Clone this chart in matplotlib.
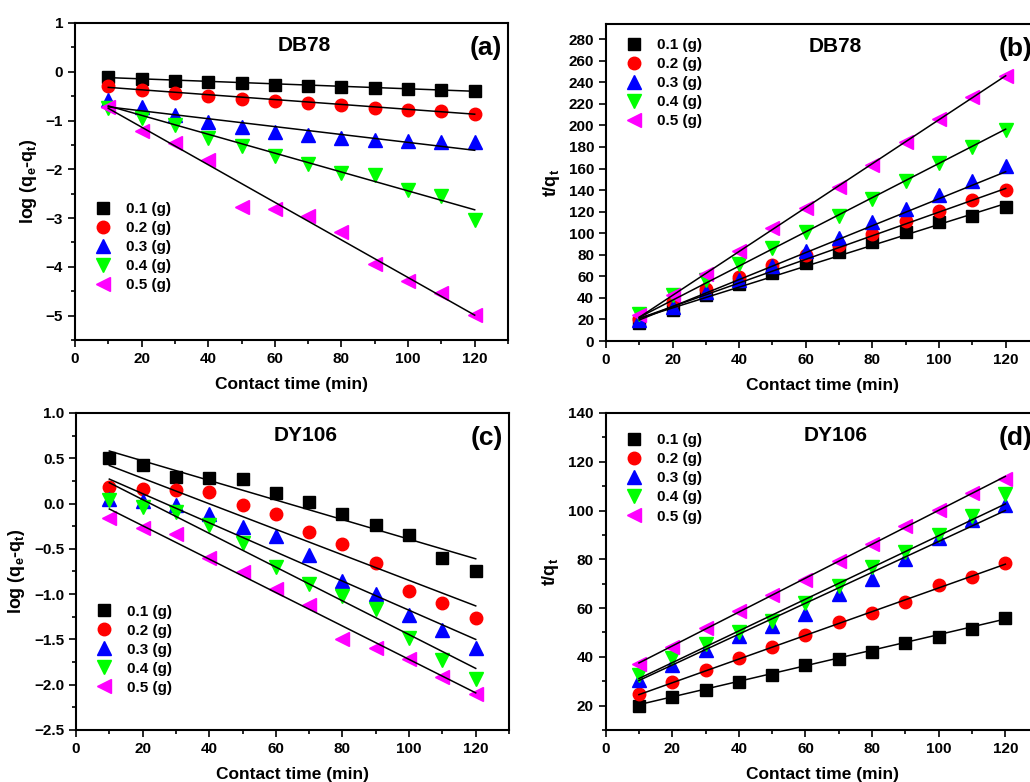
import numpy as np
import matplotlib
matplotlib.use("Agg")
import matplotlib.pyplot as plt
from matplotlib.ticker import MultipleLocator

plt.rcParams['font.family'] = 'Liberation Sans'
plt.rcParams['font.weight'] = 'bold'
plt.rcParams['mathtext.fontset'] = 'custom'
plt.rcParams['mathtext.rm'] = 'Liberation Sans:bold'
plt.rcParams['mathtext.it'] = 'Liberation Sans:bold'
plt.rcParams['mathtext.bf'] = 'Liberation Sans:bold'

time = [10, 20, 30, 40, 50, 60, 70, 80, 90, 100, 110, 120]
doses = ['0.1 (g)', '0.2 (g)', '0.3 (g)', '0.4 (g)', '0.5 (g)']

# pseudo-first-order, DB78: log(qe-qt)
db78_pfo = [
    [-0.10, -0.15, -0.19, -0.20, -0.23, -0.27, -0.30, -0.32, -0.34, -0.36, -0.38, -0.40],
    [-0.29, -0.38, -0.43, -0.49, -0.55, -0.59, -0.64, -0.69, -0.74, -0.78, -0.81, -0.86],
    [-0.57, -0.72, -0.88, -1.02, -1.14, -1.24, -1.29, -1.35, -1.40, -1.41, -1.43, -1.44],
    [-0.74, -0.94, -1.09, -1.35, -1.52, -1.72, -1.89, -2.08, -2.12, -2.42, -2.54, -3.03],
    [-0.72, -1.22, -1.47, -1.80, -2.78, -2.81, -2.95, -3.28, -3.94, -4.28, -4.54, -4.99],
]
# fitted line values at t=10 and t=120
db78_pfo_fit = [(-0.12, -0.40), (-0.32, -0.87), (-0.72, -1.61), (-0.70, -2.83), (-0.75, -4.99)]

# pseudo-second-order, DB78: t/qt
db78_pso = [
    [16.7, 29.0, 42.4, 53.3, 63.2, 72.8, 82.4, 92.0, 101.3, 110.6, 116.0, 124.5],
    [20.7, 36.0, 48.6, 59.5, 70.3, 79.6, 89.5, 99.7, 111.0, 120.5, 130.7, 140.0],
    [19.8, 32.0, 45.5, 57.0, 69.7, 83.6, 96.0, 110.0, 122.3, 135.3, 148.3, 162.3],
    [24.8, 42.4, 56.4, 71.2, 86.7, 101.3, 116.4, 131.6, 148.7, 164.8, 180.2, 195.7],
    [23.8, 42.4, 62.6, 83.6, 105.0, 123.0, 142.5, 163.2, 185.0, 205.6, 226.0, 246.0],
]
db78_pso_fit = [(21.0, 127.5), (21.0, 141.5), (19.5, 157.0), (22.0, 196.5), (22.0, 246.0)]

# pseudo-first-order, DY106
dy106_pfo = [
    [0.50, 0.43, 0.29, 0.28, 0.27, 0.12, 0.02, -0.11, -0.24, -0.35, -0.60, -0.74],
    [0.18, 0.16, 0.15, 0.13, -0.02, -0.12, -0.31, -0.45, -0.66, -0.97, -1.10, -1.26],
    [0.05, 0.03, -0.02, -0.11, -0.26, -0.36, -0.57, -0.86, -1.00, -1.23, -1.40, -1.60],
    [0.04, -0.04, -0.09, -0.24, -0.44, -0.70, -0.89, -1.02, -1.16, -1.48, -1.73, -1.94],
    [-0.16, -0.27, -0.34, -0.60, -0.76, -0.94, -1.12, -1.49, -1.59, -1.72, -1.91, -2.10],
]
dy106_pfo_fit = [(0.58, -0.61), (0.42, -1.13), (0.27, -1.50), (0.23, -1.82), (-0.06, -2.09)]

# pseudo-second-order, DY106
dy106_pso = [
    [20.0, 23.4, 26.3, 29.7, 32.7, 36.5, 39.3, 42.0, 45.7, 48.0, 51.6, 55.9],
    [24.8, 29.7, 34.4, 39.5, 44.0, 49.1, 54.3, 58.0, 62.5, 69.3, 72.6, 78.5],
    [30.7, 36.8, 43.0, 48.4, 52.5, 57.6, 65.8, 72.1, 80.3, 88.7, 96.3, 102.4],
    [32.7, 39.5, 45.3, 50.2, 54.9, 62.1, 68.9, 76.7, 83.0, 89.8, 97.6, 106.8],
    [37.2, 43.9, 51.8, 58.7, 65.2, 71.7, 79.2, 86.3, 93.5, 100.4, 107.2, 113.1],
]
dy106_pso_fit = [(20.4, 55.5), (24.5, 78.0), (30.3, 100.0), (31.1, 102.7), (37.5, 114.0)]

colors = ['#000000', '#ff0000', '#0000ff', '#00ff00', '#ff00ff']
markers = ['s', 'o', '^', 'v', '<']
msizes = [8, 9, 10, 10, 10]


def draw_panel(ax, series, fits, ylim, ymajor, yminor, ylabel, dye, tag, leg_anchor):
    for i in range(5):
        ax.plot(time, series[i], linestyle='none', marker=markers[i], ms=msizes[i],
                color=colors[i], mec=colors[i], label=doses[i], zorder=3)
    for i in range(5):
        ax.plot([time[0], time[-1]], fits[i], color='black', lw=1.1, zorder=4)

    ax.set_xlim(0, 130)
    ax.set_ylim(*ylim)
    ax.xaxis.set_major_locator(MultipleLocator(20))
    ax.xaxis.set_minor_locator(MultipleLocator(10))
    ax.yaxis.set_major_locator(MultipleLocator(ymajor))
    if yminor:
        ax.yaxis.set_minor_locator(MultipleLocator(yminor))
    ax.tick_params(which='both', direction='out', top=False, right=False,
                   width=1.2, labelsize=11)
    ax.tick_params(which='major', length=5)
    ax.tick_params(which='minor', length=3)
    for s in ax.spines.values():
        s.set_linewidth(1.5)

    ax.set_xlabel('Contact time (min)', fontsize=12.5, fontweight='bold', labelpad=8)
    ax.set_ylabel(ylabel, fontsize=13, fontweight='bold', labelpad=5)
    ax.text(0.53, 0.93, dye, transform=ax.transAxes, ha='center', va='center',
            fontsize=15, fontweight='bold')
    ax.text(0.985, 0.92, tag, transform=ax.transAxes, ha='right', va='center',
            fontsize=19, fontweight='bold')
    ax.legend(loc='upper left', bbox_to_anchor=leg_anchor, frameon=False,
              fontsize=11, handletextpad=0.9, labelspacing=0.33,
              handlelength=1.2, borderaxespad=0)


fig = plt.figure(figsize=(10.3, 7.82), dpi=100)
ax_a = fig.add_axes([0.0728, 0.5652, 0.4204, 0.4054])
ax_b = fig.add_axes([0.5883, 0.5639, 0.4204, 0.4054])
ax_c = fig.add_axes([0.0738, 0.0665, 0.4204, 0.4054])
ax_d = fig.add_axes([0.5880, 0.0665, 0.4204, 0.4054])

logq = 'log (q$_e$-q$_t$)'
draw_panel(ax_a, db78_pfo, db78_pfo_fit, (-5.5, 1), 1, 0.5, logq, 'DB78', '(a)', (0.03, 0.455))
draw_panel(ax_b, db78_pso, db78_pso_fit, (0, 294), 20, None, 't/q$_t$', 'DB78', '(b)', (0.03, 0.975))
draw_panel(ax_c, dy106_pfo, dy106_pfo_fit, (-2.5, 1.0), 0.5, 0.25, logq, 'DY106', '(c)', (0.03, 0.415))
draw_panel(ax_d, dy106_pso, dy106_pso_fit, (10, 140), 20, 10, 't/q$_t$', 'DY106', '(d)', (0.03, 0.955))

fig.savefig('out.png', dpi=100)
